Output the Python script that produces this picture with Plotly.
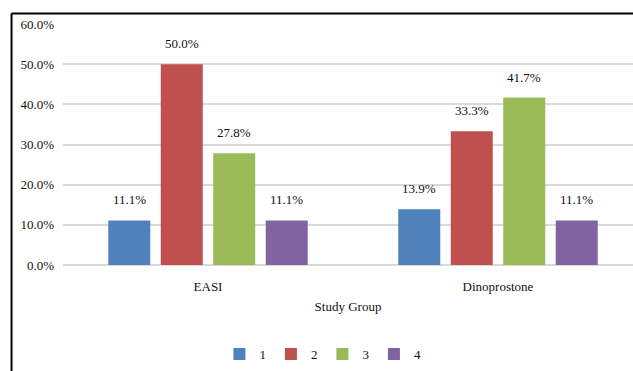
import plotly.graph_objects as go

# Study groups and share of patients in each score class (percent)
groups = ["EASI", "Dinoprostone"]
class_names = ["1", "2", "3", "4"]
class_1 = [11.1, 13.9]
class_2 = [50.0, 33.3]
class_3 = [27.8, 41.7]
class_4 = [11.1, 11.1]
series = [class_1, class_2, class_3, class_4]
colors = ["#4f81bd", "#c0504d", "#9bbb59", "#8064a2"]

y_ticks = [0, 10, 20, 30, 40, 50, 60]
y_tick_text = [f"{v:.1f}%" for v in y_ticks]

FONT = "Liberation Serif, Times New Roman, DejaVu Serif, serif"
BARGAP = 0.276
BARGROUPGAP = 0.2

fig = go.Figure()
for name, vals, col in zip(class_names, series, colors):
    fig.add_trace(go.Bar(
        x=groups, y=vals, name=name,
        marker=dict(color=col, line=dict(width=0)),
    ))

# value labels above each bar, centred on its slot within the group
n = len(series)
slot = (1 - BARGAP) / n
annotations = []
for i, vals in enumerate(series):
    offset = (i - (n - 1) / 2) * slot
    for g, v in enumerate(vals):
        annotations.append(dict(
            x=g + offset, y=v, xref="x", yref="y",
            text=f"{v:.1f}%", showarrow=False,
            yanchor="bottom", yshift=11,
            font=dict(family=FONT, size=13, color="#111111"),
        ))

fig.update_layout(
    width=633, height=371,
    margin=dict(l=63, r=0, t=24, b=106),
    paper_bgcolor="white", plot_bgcolor="white",
    barmode="group", bargap=BARGAP, bargroupgap=BARGROUPGAP,
    font=dict(family=FONT, size=13, color="#111111"),
    showlegend=True,
    legend=dict(orientation="h", x=0.456, xanchor="center", y=-0.37, yanchor="middle",
                font=dict(family=FONT, size=13), itemwidth=30),
    xaxis=dict(range=[-0.5, 1.4655], showgrid=False, zeroline=False, showline=False,
               ticks="", ticklabelstandoff=12, tickfont=dict(family=FONT, size=13),
               title=dict(text="Study Group", font=dict(family=FONT, size=13), standoff=8)),
    yaxis=dict(range=[0, 60], tickvals=y_ticks, ticktext=y_tick_text,
               showgrid=True, gridcolor="#d9d9d9", gridwidth=1.5,
               zeroline=True, zerolinecolor="#d9d9d9", zerolinewidth=1.5,
               showline=False, ticks="", ticklabelstandoff=8,
               tickfont=dict(family=FONT, size=13)),
    annotations=annotations,
    shapes=[
        dict(type="line", xref="paper", yref="paper", x0=-0.0903, x1=-0.0903, y0=-0.5, y1=1.0436,
             line=dict(color="black", width=2)),
        dict(type="line", xref="paper", yref="paper", x0=-0.0903, x1=1.05, y0=1.0436, y1=1.0436,
             line=dict(color="black", width=2)),
    ],
)

fig.write_html("out.html")
